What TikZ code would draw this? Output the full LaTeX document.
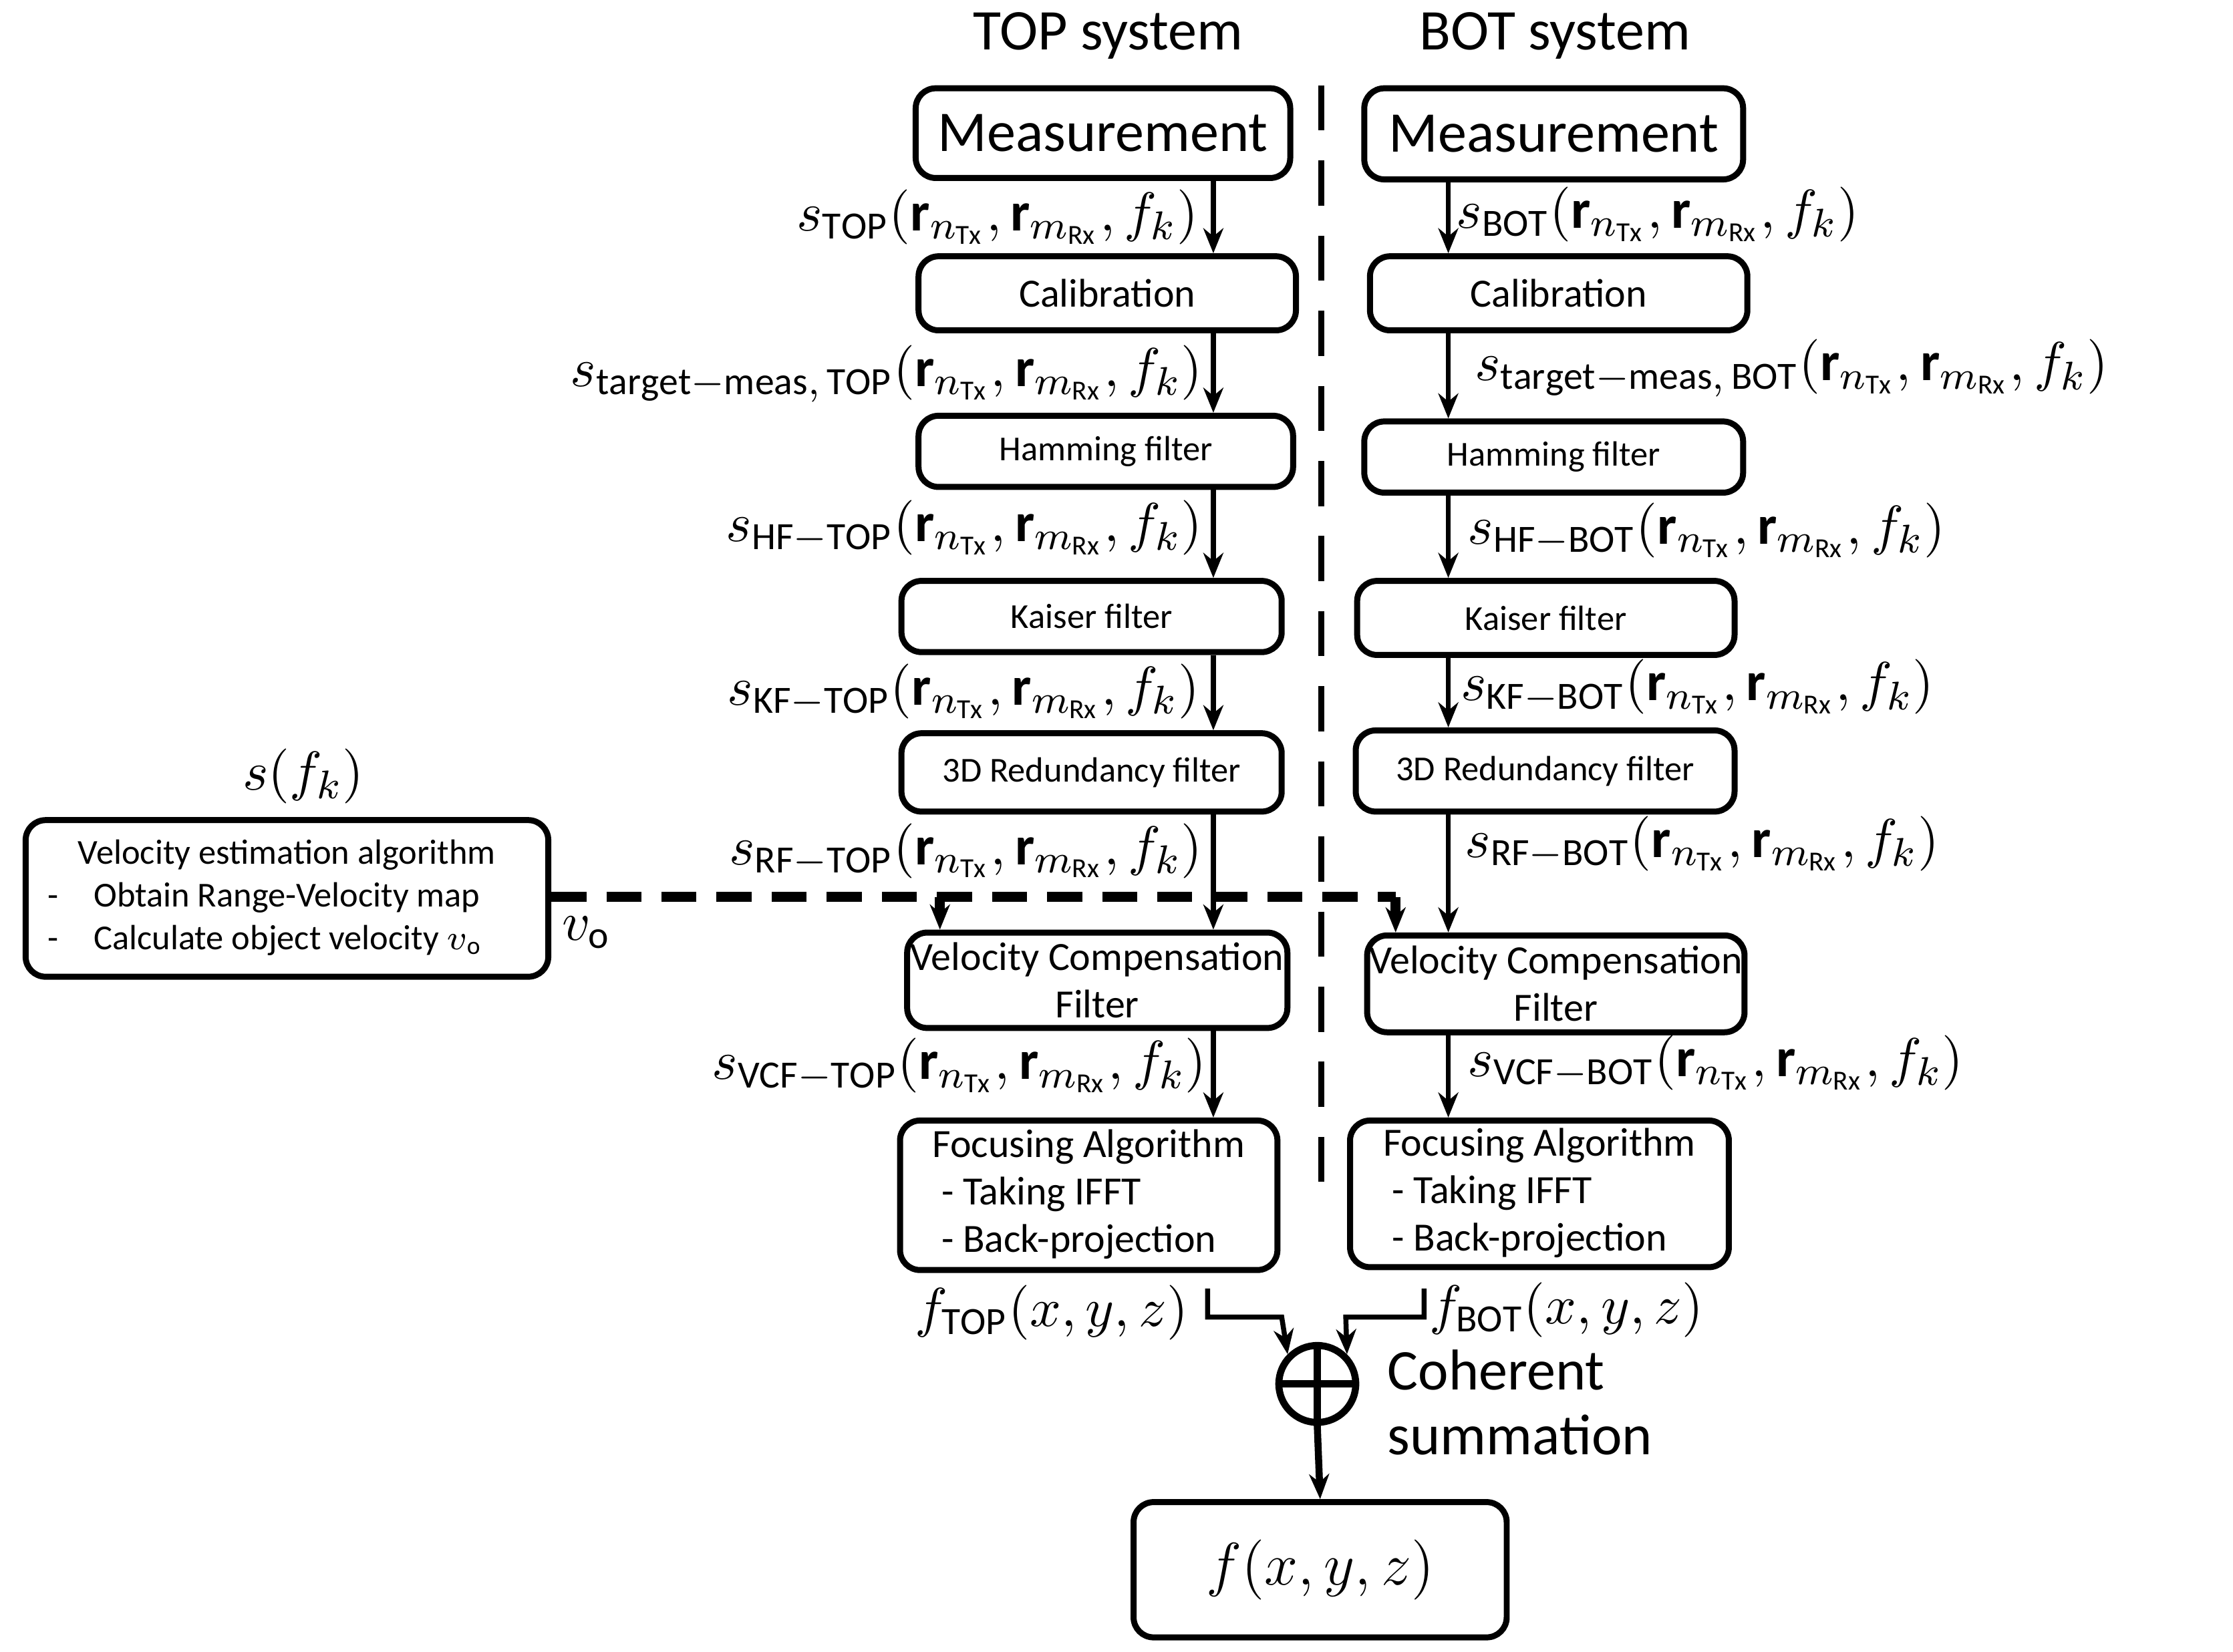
\documentclass[tikz,border=0pt]{standalone}
\usepackage{fontspec}
\setmainfont{Carlito}
\usetikzlibrary{arrows.meta,calc}
\begin{document}
\begin{tikzpicture}[x=0.01cm,y=-0.01cm,
  box/.style={draw,line width=1.2pt,rounded corners=4pt,inner sep=0pt,align=center},
  arr/.style={line width=1pt,-{Stealth[length=5pt,width=4pt]}},
  big/.style={font=\fontsize{11.5}{13}\selectfont},
  mid/.style={font=\fontsize{8}{9.5}\selectfont},
  sml/.style={font=\fontsize{7}{8.5}\selectfont},
  lab/.style={inner sep=0pt,font=\fontsize{11}{13}\selectfont}]
\useasboundingbox (0,0) rectangle (1568,1160);
\newcommand\bx[6]{\node[box,#6,minimum width={(#4-#2)*0.01cm},minimum height={(#5-#3)*0.01cm}] (#1) at ({(#2+#4)/2},{(#3+#5)/2})}
% titles
\node[big] (tt) at (778,25) {TOP system};
\node[big] (bt) at (1092,25) {BOT system};
\draw[line width=1.2pt,dash pattern=on 9pt off 6pt] (928,60) coordinate (d1) -- (928,850) coordinate (d2);
% TOP boxes
\bx{tm}{643}{62}{906}{125}{big}{Measurement};
\bx{tc}{645}{180}{910}{232}{mid}{Calibration};
\bx{th}{645}{292}{908}{342}{sml}{Hamming filter};
\bx{tk}{633}{408}{900}{458}{sml}{Kaiser filter};
\bx{tr}{633}{515}{900}{570}{sml}{3D Redundancy filter};
\bx{tv}{637}{655}{904}{722}{mid}{Velocity Compensation\\Filter};
\bx{tf}{632}{787}{897}{892}{mid}{\begin{tabular}{@{}l@{}}Focusing Algorithm\\\ - Taking IFFT\\\ - Back-projection\end{tabular}};
% BOT boxes
\bx{bm}{958}{62}{1224}{126}{big}{Measurement};
\bx{bc}{962}{180}{1227}{232}{mid}{Calibration};
\bx{bh}{958}{296}{1224}{346}{sml}{Hamming filter};
\bx{bk}{953}{408}{1218}{460}{sml}{Kaiser filter};
\bx{br}{952}{513}{1218}{570}{sml}{3D Redundancy filter};
\bx{bv}{960}{657}{1225}{725}{mid}{Velocity Compensation\\Filter};
\bx{bf}{948}{787}{1214}{890}{mid}{\begin{tabular}{@{}l@{}}Focusing Algorithm\\\ - Taking IFFT\\\ - Back-projection\end{tabular}};
% velocity box
\bx{vb}{18}{576}{385}{686}{sml}{\begin{tabular}{@{}l@{}}\multicolumn{1}{c}{Velocity estimation algorithm}\\-\quad Obtain Range-Velocity map\\-\quad Calculate object velocity $v_{\mathrm{o}}$\end{tabular}};
\node[lab] (sf) at (213,545) {$s(f_k)$};
\node[lab] (vo) at (412,655) {$v_{\mathrm{o}}$};
% output
\bx{fo}{796}{1055}{1058}{1150}{big}{$f(x,y,z)$};
\node[draw,circle,line width=1.4pt,minimum size=0.54cm,inner sep=0pt] (sum) at (925,972) {};
\draw[line width=1.4pt] (sum.north)--(sum.south) (sum.west)--(sum.east);
\node[big,align=left,anchor=west] (cs) at (962,985) {Coherent\\summation};
% arrows TOP
\coordinate (tx) at (852,0);
\coordinate (bx) at (1017,0);
\foreach \a/\b in {tm/tc,tc/th,th/tk,tk/tr,tr/tv,tv/tf}{\draw[arr] (\a.south -| tx) -- (\b.north -| tx);}
\foreach \a/\b in {bm/bc,bc/bh,bh/bk,bk/br,br/bv,bv/bf}{\draw[arr] (\a.south -| bx) -- (\b.north -| bx);}
% TOP labels
\newcommand\sig[1]{$s_{\mathrm{#1}}\big(\mathbf{r}_{n_{\mathrm{Tx}}},\mathbf{r}_{m_{\mathrm{Rx}}},f_k\big)$}
\node[lab,anchor=east] (l1) at (842,152) {\sig{TOP}};
\node[lab,anchor=east] (l2) at (845,262) {\sig{target-meas,\,TOP}};
\node[lab,anchor=east] (l3) at (845,370) {\sig{HF-TOP}};
\node[lab,anchor=east] (l4) at (843,485) {\sig{KF-TOP}};
\node[lab,anchor=east] (l5) at (845,597) {\sig{RF-TOP}};
\node[lab,anchor=east] (l6) at (848,748) {\sig{VCF-TOP}};
\node[lab,anchor=west] (r1) at (1022,150) {\sig{BOT}};
\node[lab,anchor=west] (r2) at (1035,258) {\sig{target-meas,\,BOT}};
\node[lab,anchor=west] (r3) at (1030,372) {\sig{HF-BOT}};
\node[lab,anchor=west] (r4) at (1025,482) {\sig{KF-BOT}};
\node[lab,anchor=west] (r5) at (1028,592) {\sig{RF-BOT}};
\node[lab,anchor=west] (r6) at (1030,746) {\sig{VCF-BOT}};
% dashed velocity line
\coordinate (j1) at (660,630);
\coordinate (j2) at (980,630);
\draw[line width=2pt,dash pattern=on 7pt off 4pt] (vb.east |- j1) -- (j2);
\draw[arr,line width=2pt] (j1) -- (j1 |- tv.north);
\draw[arr,line width=2pt] (j2) -- (j2 |- bv.north);
% bottom
\node[lab,anchor=east] (ft) at (835,922) {$f_{\mathrm{TOP}}(x,y,z)$};
\node[lab,anchor=west] (fb) at (1003,920) {$f_{\mathrm{BOT}}(x,y,z)$};
\draw[arr] (848,905) -- (848,925) -- (900,925) -- (sum.north west);
\draw[arr] (1000,905) -- (1000,925) -- (945,925) -- (sum.north east);
\draw[arr,line width=1.4pt] (sum.south) -- (fo.north);
\end{tikzpicture}
\end{document}
